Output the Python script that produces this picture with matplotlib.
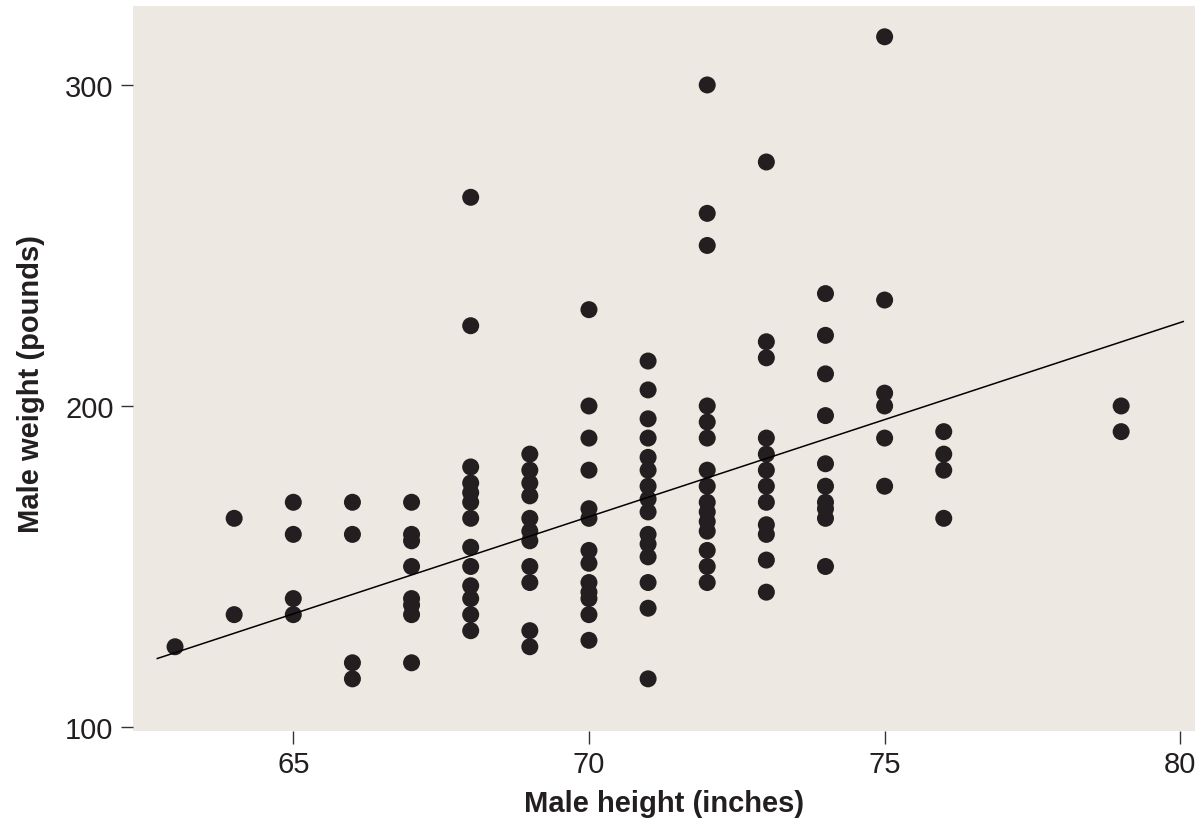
import numpy as np
import matplotlib.pyplot as plt

plt.rcParams['font.family'] = ['Liberation Sans', 'DejaVu Sans']

# weights (pounds) read for each height (inches)
weights_by_height = {
    63: [125],
    64: [165, 135],
    65: [170, 160, 140, 135],
    66: [170, 160, 120, 115],
    67: [170, 160, 158, 150, 140, 138, 135, 120],
    68: [265, 225, 181, 176, 173, 170, 165, 156, 150, 144, 140, 135, 130],
    69: [185, 180, 176, 172, 165, 161, 158, 150, 145, 130, 125],
    70: [230, 200, 190, 180, 168, 165, 155, 151, 145, 142, 140, 135, 127],
    71: [214, 205, 196, 190, 184, 180, 175, 171, 167, 160, 157, 153, 145, 137, 115],
    72: [300, 260, 250, 200, 195, 190, 180, 175, 170, 167, 164, 161, 155, 150, 145],
    73: [276, 220, 215, 190, 185, 180, 175, 170, 163, 160, 152, 142],
    74: [235, 222, 210, 197, 182, 175, 170, 168, 165, 150],
    75: [315, 233, 204, 200, 190, 175],
    76: [192, 185, 180, 165],
    79: [200, 192],
}

# fitted line as drawn in the chart
line_x = [62.7, 80.05]
line_slope = 6.05
line_intercept = -258.0

heights = []
weights = []
for h, ws in weights_by_height.items():
    heights += [h] * len(ws)
    weights += ws

fig = plt.figure(figsize=(12.03, 8.2), dpi=100)
ax = fig.add_axes([0.1106, 0.1073, 0.8828, 0.8842])
ax.set_facecolor('#ede9e2')

ax.scatter(heights, weights, s=150, color='#231f20', edgecolors='none', zorder=3)
lx = np.array(line_x)
ax.plot(lx, line_slope * lx + line_intercept, color='black', lw=1.1, zorder=4)

ax.set_xlim(62.29, 80.25)
ax.set_ylim(98.75, 324.6)
ax.set_xticks([65, 70, 75, 80])
ax.set_yticks([100, 200, 300])

for s in ax.spines.values():
    s.set_visible(False)
ax.tick_params(axis='both', length=9, width=1, color='#333333', labelsize=21,
               labelcolor='#231f20', pad=5)

ax.set_xlabel('Male height (inches)', fontsize=21, fontweight='bold', color='#231f20')
ax.set_ylabel('Male weight (pounds)', fontsize=21, fontweight='bold', color='#231f20')
ax.xaxis.set_label_coords(0.5, -0.080)
ax.yaxis.set_label_coords(-0.083, 0.48)

fig.savefig('out.png', dpi=100)
